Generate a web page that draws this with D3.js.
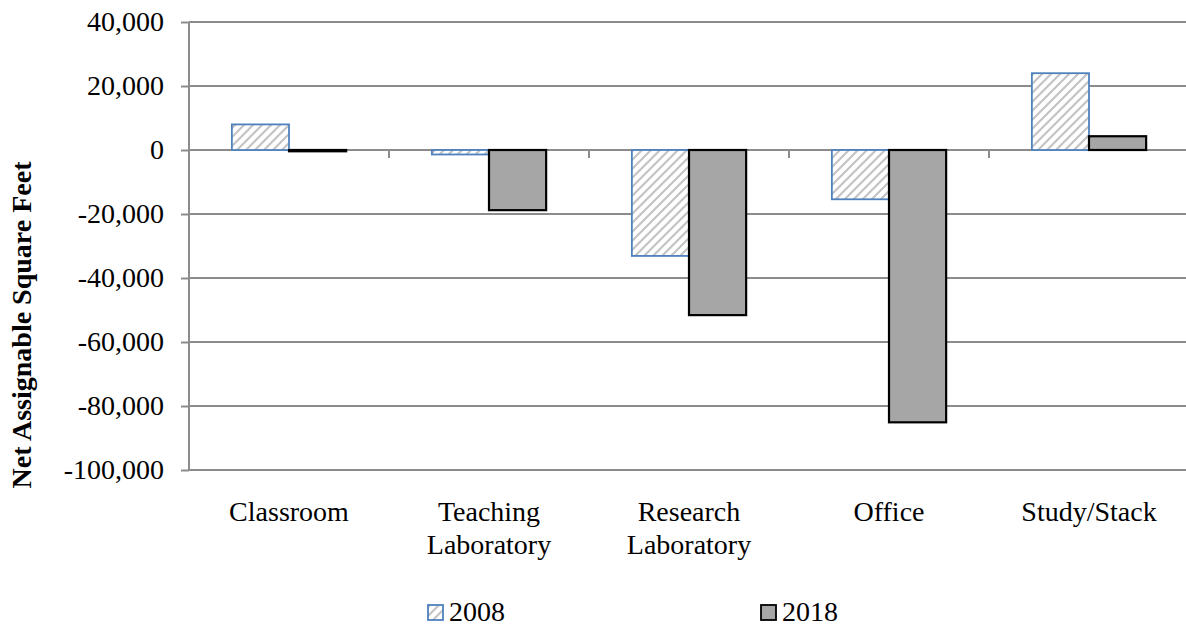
<!DOCTYPE html>
<html>
<head>
<meta charset="utf-8">
<script src="https://cdn.jsdelivr.net/npm/d3@7"></script>
<style>
  html, body { margin: 0; padding: 0; background: #fff; }
  svg { display: block; }
  svg text { font-family: "Liberation Serif", "Times New Roman", serif; }
</style>
</head>
<body>
<svg id="chart" width="1186" height="626"></svg>
<script>
// Net assignable square feet change by space type
const categories = ["Classroom", "Teaching\nLaboratory", "Research\nLaboratory", "Office", "Study/Stack"];
const seriesNames = ["2008", "2018"];
const values2008 = [8000, -1400, -33100, -15400, 24000];
const values2018 = [-400, -18800, -51600, -85100, 4300];
const yTicks = [40000, 20000, 0, -20000, -40000, -60000, -80000, -100000];

const FONT = "Liberation Serif";
const FS = 28;
const svg = d3.select("#chart");
const plot = { left: 189, right: 1189, top: 22, bottom: 470 };

const defs = svg.append("defs");
const pat = defs.append("pattern")
  .attr("id", "hatch")
  .attr("patternUnits", "userSpaceOnUse")
  .attr("width", 9).attr("height", 9);
pat.append("rect").attr("width", 9).attr("height", 9).attr("fill", "#fff");
pat.append("path")
  .attr("d", "M-2,2 L2,-2 M0,9 L9,0 M7,11 L11,7")
  .attr("stroke", "#c4c4c4").attr("stroke-width", 2.2);

const x = d3.scaleBand().domain(categories).range([plot.left, plot.right]).padding(0);
const inner = d3.scaleBand().domain(seriesNames)
  .range([0, x.bandwidth()]).paddingInner(0).paddingOuter(0.75);
const y = d3.scaleLinear().domain([-100000, 40000]).range([plot.bottom, plot.top]);

const fmt = d3.format(",");

// y-axis with labels
const yAxis = d3.axisLeft(y).tickValues(yTicks)
  .tickFormat(d => fmt(d).replace("−", "-"))
  .tickSize(8).tickPadding(17);
const gy = svg.append("g").attr("transform", `translate(${plot.left},0)`).call(yAxis)
  .attr("font-family", FONT).attr("font-size", FS);
gy.select(".domain").attr("stroke", "#8c8c8c").attr("stroke-width", 2)
  .attr("d", `M0,${plot.top}V${plot.bottom}`);
gy.selectAll(".tick line").attr("stroke", "#8c8c8c").attr("stroke-width", 2);
gy.selectAll(".tick text").attr("fill", "#000");

// horizontal gridlines
svg.append("g").selectAll("line").data(yTicks).join("line")
  .attr("x1", plot.left).attr("x2", plot.right)
  .attr("y1", d => y(d)).attr("y2", d => y(d))
  .attr("stroke", "#8c8c8c").attr("stroke-width", 2);

// bars
const series = [
  { name: "2008", values: values2008 },
  { name: "2018", values: values2018 }
];
const gBars = svg.append("g");
series.forEach(s => {
  gBars.selectAll(null).data(s.values.map((v, i) => ({ v, c: categories[i] }))).join("rect")
    .attr("x", d => x(d.c) + inner(s.name))
    .attr("width", inner.bandwidth())
    .attr("y", d => y(Math.max(0, d.v)))
    .attr("height", d => Math.abs(y(d.v) - y(0)))
    .attr("fill", s.name === "2008" ? "url(#hatch)" : "#a6a6a6")
    .attr("stroke", s.name === "2008" ? "#4f81bd" : "#000")
    .attr("stroke-width", s.name === "2008" ? 1.8 : 2.2);
});

// category axis at zero with boundary ticks
svg.append("g").selectAll("line").data(categories.slice(1)).join("line")
  .attr("x1", d => x(d)).attr("x2", d => x(d))
  .attr("y1", y(0)).attr("y2", y(0) + 8)
  .attr("stroke", "#8c8c8c").attr("stroke-width", 2);

// category labels
const labels = svg.append("g").selectAll("text").data(categories).join("text")
  .attr("x", d => x(d) + x.bandwidth() / 2)
  .attr("y", 521)
  .attr("text-anchor", "middle")
  .attr("font-family", FONT).attr("font-size", FS).attr("fill", "#000");
labels.each(function(d) {
  const t = d3.select(this);
  d.split("\n").forEach((line, i) => {
    t.append("tspan").attr("x", x(d) + x.bandwidth() / 2).attr("dy", i === 0 ? 0 : 33).text(line);
  });
});

// y-axis title
svg.append("text")
  .attr("transform", `translate(31,325) rotate(-90)`)
  .attr("text-anchor", "middle")
  .attr("font-family", FONT).attr("font-size", FS).attr("font-weight", "bold")
  .attr("fill", "#000")
  .text("Net Assignable Square Feet");

// legend
const legendItems = [
  { name: "2008", x: 428, fill: "url(#hatch)", stroke: "#4f81bd" },
  { name: "2018", x: 761, fill: "#a6a6a6", stroke: "#000" }
];
const lg = svg.append("g");
legendItems.forEach(it => {
  lg.append("rect").attr("x", it.x).attr("y", 605).attr("width", 15).attr("height", 15)
    .attr("fill", it.fill).attr("stroke", it.stroke).attr("stroke-width", 1.8);
  lg.append("text").attr("x", it.x + 21).attr("y", 621)
    .attr("font-family", FONT).attr("font-size", FS).attr("fill", "#000").text(it.name);
});
</script>
</body>
</html>
